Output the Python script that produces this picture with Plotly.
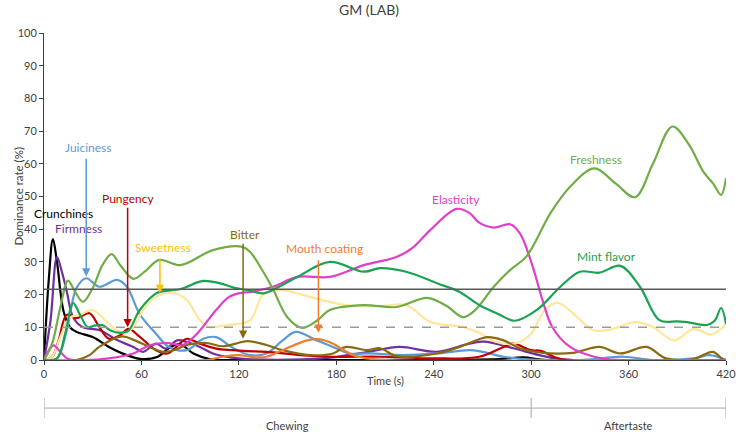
import plotly.graph_objects as go

# ---------------- data ----------------
title_text = "GM (LAB)"
x_title = "Time (s)"
y_title = "Dominance rate (%)"
x_ticks = [0, 60, 120, 180, 240, 300, 360, 420]
y_ticks = [0, 10, 20, 30, 40, 50, 60, 70, 80, 90, 100]

chance_level = 10.0        # dashed line
significance_level = 21.6  # solid line

phase_names = ["Chewing", "Aftertaste"]
phase_bounds = [0, 300, 420]

crunch_t = [0, 3, 5.5, 8, 12, 16, 20, 30, 40, 51, 60, 70, 78, 84, 92, 102, 120, 200, 280, 295, 310, 420]
crunch_v = [0, 25, 37, 30, 15, 10, 8.6, 7, 4, 1.5, 0.3, 1, 4, 4.8, 2, 0.3, 0, 0, 0.3, 0.8, 0, 0]

firm_t = [0, 4, 8, 11, 14, 18, 24, 34, 45, 55, 61, 69, 75, 82, 88, 96, 104, 115, 125, 160, 178, 200, 219, 242, 262, 271, 289, 305, 320, 420]
firm_v = [0, 12, 31.5, 27, 21, 13, 10, 9.2, 6.1, 4, 2.5, 5, 3.5, 6, 5.5, 4, 2, 0.8, 0.3, 0.2, 0.8, 2.5, 4, 2.5, 5, 5.6, 3.6, 1.5, 0.2, 0]

juicy_t = [0, 8, 14, 20, 26, 34, 45, 51, 59, 69, 77, 88, 98, 106, 116, 127, 137, 147, 155, 168, 178, 188, 201, 221, 242, 262, 270, 283, 295, 330, 357, 375, 400, 410, 420]
juicy_v = [0, 0.5, 9, 22, 25, 22.4, 24.5, 22.4, 14, 8, 4, 3, 6.5, 7, 3.8, 1.5, 2, 6, 8.6, 6, 4, 2, 2, 1.5, 2, 3, 2.5, 1, 0.3, 0, 1, 0, 0.5, 1.5, 0]

pung_t = [0, 5, 9, 14, 20, 28, 34, 40, 47, 52, 59, 69, 76, 84, 88, 96, 106, 116, 125, 137, 158, 178, 207, 240, 268, 283, 289, 300, 306, 318, 420]
pung_v = [0, 1, 6, 13.8, 12.8, 14.3, 10.1, 6.5, 7.6, 9.5, 7.1, 3, 2, 5.2, 6.5, 5, 3.5, 3, 2.7, 2.5, 1.5, 1, 1, 0.5, 1, 4, 5, 3, 2.8, 0.3, 0]

sweet_t = [0, 5, 10, 16, 22, 30, 36, 43, 49, 55, 61, 69, 80, 88, 96, 102, 110, 116, 127, 135, 145, 155, 166, 186, 207, 223, 238, 258, 268, 278, 290, 300, 308, 316, 328, 338, 348, 364, 375, 388, 400, 411, 420]
sweet_v = [0, 1, 7, 13, 13.8, 15.3, 13, 9.7, 8.3, 10, 15.3, 19.3, 20.5, 18.3, 12.2, 10, 10.5, 10.8, 12.2, 20, 21.4, 20.5, 19, 16.8, 16.5, 16.8, 11.6, 10.1, 8.3, 5.6, 5, 8, 15, 17.5, 13.3, 9.2, 9.2, 11.6, 10.1, 6, 9.5, 7.8, 11]

bitter_t = [0, 20, 28, 34, 48, 56, 65, 73, 80, 88, 100, 110, 118, 125, 137, 147, 164, 178, 186, 199, 207, 217, 242, 256, 273, 283, 293, 307, 326, 342, 355, 371, 383, 400, 412, 418, 420]
bitter_v = [0, 0, 1.5, 4, 7.2, 6, 4, 2.5, 3, 4.6, 5.2, 4.2, 5, 5.8, 4.6, 3, 1.5, 2, 4, 3, 3.6, 1.2, 2, 4, 7, 6, 3.6, 2.2, 2.2, 4, 2, 4, 0.5, 0.3, 2.5, 0.2, 0]

mouth_t = [0, 100, 110, 120, 130, 137, 147, 162, 170, 178, 190, 199, 210, 420]
mouth_v = [0, 0, 1, 1.5, 0.8, 1, 3, 6, 6.3, 5, 1.5, 0.5, 0, 0]

elast_t = [0, 3, 6, 10, 15, 25, 40, 55, 65, 76, 85, 90, 96, 106, 114, 121, 127, 141, 156, 176, 197, 217, 227, 238, 254, 262, 268, 277, 287, 293, 301, 307, 313, 324, 342, 355, 420]
elast_v = [0, 3, 4.5, 2.5, 0.3, 0, 0.5, 2, 4.5, 5.2, 4.5, 6, 9, 15.3, 19.3, 20.5, 20.8, 22.4, 25.4, 25.4, 29, 31.5, 34.3, 39.8, 46.2, 45, 42, 40.5, 41.5, 38.8, 28.5, 18.3, 10.1, 4, 0.6, 0, 0]

fresh_t = [0, 5, 10, 14.8, 19, 24, 30, 36, 41.6, 47, 55, 62, 71, 84, 104, 122, 127, 135, 141, 150, 159, 168, 176, 197, 217, 236, 248, 258, 265, 277, 287, 297, 312, 324, 339, 352, 364, 375, 387, 397, 406, 412, 417, 420]
fresh_v = [0, 5, 16, 24.3, 21, 17.8, 22, 29, 32.4, 29, 24.8, 27, 30.6, 29, 33.6, 34.6, 33, 27, 21.7, 13, 9.8, 12, 15.3, 16.8, 16.2, 19, 16.5, 13.1, 15, 22.4, 27.5, 31.6, 45, 53, 58.6, 54, 49.8, 60, 71.4, 66, 57.6, 54, 50.5, 55.6]

mint_t = [0, 8, 13, 18, 22, 27, 31, 36, 41, 47, 52, 59, 69.5, 84, 98, 108, 118, 125, 135, 145, 156, 176, 197, 207, 223, 242, 256, 268, 280, 290, 303.5, 318, 330, 342, 355, 367, 379, 390, 396, 408, 413, 417, 420]
mint_v = [0, 0.5, 8, 17.4, 14, 10, 10.5, 10.7, 9, 8.3, 9, 15.3, 20.5, 21.7, 24.2, 23.5, 22, 21.4, 20.4, 22.5, 25.4, 30, 27, 28.1, 27, 23.5, 20.8, 16.8, 14, 12, 15.3, 22.4, 27, 26.7, 28.8, 22.4, 12.2, 11.8, 11.6, 10.7, 12, 15.9, 11]

series = [
    ("Crunchiness", crunch_t, crunch_v, "#000000"),
    ("Firmness", firm_t, firm_v, "#7030A0"),
    ("Juiciness", juicy_t, juicy_v, "#5B9BD5"),
    ("Pungency", pung_t, pung_v, "#C00000"),
    ("Sweetness", sweet_t, sweet_v, "#FFE699"),
    ("Bitter", bitter_t, bitter_v, "#8A6A10"),
    ("Mouth coating", mouth_t, mouth_v, "#ED7D31"),
    ("Elasticity", elast_t, elast_v, "#E040C8"),
    ("Freshness", fresh_t, fresh_v, "#70AD47"),
    ("Mint flavor", mint_t, mint_v, "#1AA352"),
]

# label texts, positions (time, rate) and colours
label_text = ["Juiciness", "Pungency", "Crunchines", "Firmness", "Sweetness", "Bitter",
              "Mouth coating", "Elasticity", "Freshness", "Mint flavor"]
label_t = [27.7, 51.7, 12.3, 21, 73, 124, 173, 254, 340, 346.7]
label_v = [65, 49.5, 44.8, 40.2, 34.3, 38.5, 34, 49, 61.2, 31.8]
label_color = ["#5B9BD5", "#C00000", "#000000", "#7030A0", "#FFC000", "#8A6A10",
               "#ED7D31", "#E040C8", "#70AD47", "#1AA352"]

# arrows: time, tail rate, tip rate, colour
arrow_t = [26, 51.5, 71.4, 122.6, 169]
arrow_tail = [62, 47, 31.2, 36, 31]
arrow_tip = [25.5, 10, 20.5, 6.5, 8.3]
arrow_color = ["#5B9BD5", "#C00000", "#FFC000", "#8A6A10", "#ED7D31"]

# ---------------- figure ----------------
FONT = "Lato, 'Open Sans', sans-serif"
fig = go.Figure()

for name, t, v, c in series:
    fig.add_trace(go.Scatter(x=t, y=v, mode="lines", name=name,
                             line=dict(color=c, width=2.2, shape="spline", smoothing=1.0),
                             showlegend=False, hoverinfo="skip"))

shapes = [
    dict(type="line", xref="paper", x0=0, x1=1, yref="y", y0=significance_level, y1=significance_level,
         line=dict(color="#595959", width=1.5)),
    dict(type="line", xref="paper", x0=0, x1=1, yref="y", y0=chance_level, y1=chance_level,
         line=dict(color="#9A9A9A", width=1.5, dash="dash")),
]
# phase bracket under the axis
br_y = -0.147
shapes.append(dict(type="line", xref="x", x0=phase_bounds[0], x1=phase_bounds[-1], yref="paper",
                   y0=br_y, y1=br_y, line=dict(color="#A6A6A6", width=1)))
for b in phase_bounds:
    shapes.append(dict(type="line", xref="x", x0=b, x1=b, yref="paper", y0=-0.116, y1=-0.177,
                       line=dict(color="#A6A6A6", width=1)))

annotations = []
for txt, t, v, c in zip(label_text, label_t, label_v, label_color):
    annotations.append(dict(x=t, y=v, xref="x", yref="y", text=txt, showarrow=False,
                            font=dict(family=FONT, size=12, color=c)))
for t, tail, tip, c in zip(arrow_t, arrow_tail, arrow_tip, arrow_color):
    annotations.append(dict(x=t, y=tip, xref="x", yref="y", ax=t, ay=tail, axref="x", ayref="y",
                            text="", showarrow=True, arrowhead=2, arrowsize=1.1, arrowwidth=1.5,
                            arrowcolor=c))
for i, name in enumerate(phase_names):
    mid = (phase_bounds[i] + phase_bounds[i + 1]) / 2
    annotations.append(dict(x=mid, y=-0.199, xref="x", yref="paper", text=name, showarrow=False,
                            yanchor="middle", font=dict(family=FONT, size=11, color="#404040")))
annotations.append(dict(x=0.5, y=-0.064, xref="paper", yref="paper", text=x_title, showarrow=False,
                        yanchor="middle", font=dict(family=FONT, size=11, color="#404040")))
annotations.append(dict(x=-0.038, y=0.5, xref="paper", yref="paper", text=y_title, showarrow=False,
                        textangle=-90, xanchor="center", yanchor="middle",
                        font=dict(family=FONT, size=11.5, color="#404040")))

fig.update_layout(
    width=738, height=432, autosize=False,
    margin=dict(l=44, r=12, t=33, b=72, autoexpand=False),
    plot_bgcolor="white", paper_bgcolor="white",
    title=dict(text=title_text, x=0.5, xanchor="center", y=0.977, yanchor="middle",
               font=dict(family=FONT, size=14, color="#404040")),
    shapes=shapes, annotations=annotations,
    xaxis=dict(range=[0, 420], tickvals=x_ticks, showgrid=False, zeroline=False, automargin=False,
               showline=True, linecolor="#404040", linewidth=1, ticks="outside", ticklen=4,
               tickcolor="#404040", tickfont=dict(family=FONT, size=11, color="#404040")),
    yaxis=dict(range=[0, 100], tickvals=y_ticks, showgrid=False, zeroline=False, automargin=False,
               showline=True, linecolor="#404040", linewidth=1, ticks="outside", ticklen=4,
               tickcolor="#404040", tickfont=dict(family=FONT, size=11, color="#404040")),
)

fig.write_html(
    "out.html",
    config={"displayModeBar": False, "responsive": False},
    post_script="document.body.style.margin='0px';document.body.style.overflow='hidden';",
)
